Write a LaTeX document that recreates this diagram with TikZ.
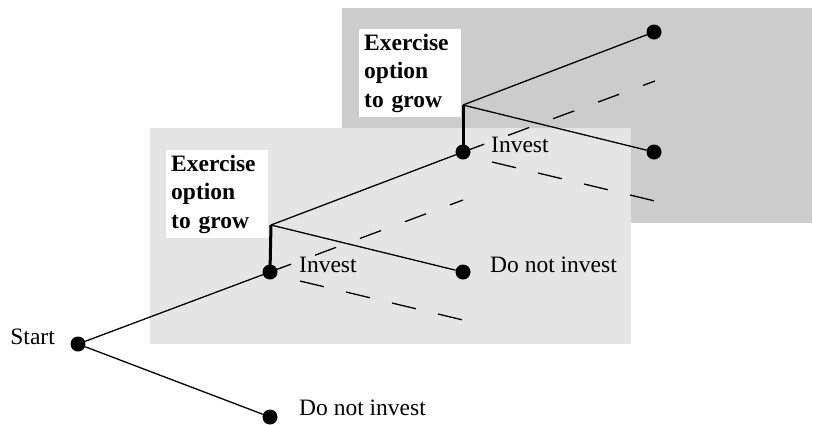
\documentclass[tikz,border=0pt]{standalone}
\usepackage{fontspec}
\setmainfont{Liberation Serif}
\begin{document}
\begin{tikzpicture}[x=1pt,y=-1pt,
  dot/.style={circle,fill=black,draw=none,minimum size=15pt,inner sep=0pt},
  edge/.style={line width=1.3pt},
  stem/.style={line width=3pt},
  dashup/.style={line width=1.3pt,dash pattern=on 22.5pt off 25.5pt},
  dashdn/.style={line width=1.3pt,dash pattern=on 24.5pt off 22.8pt},
  lbl/.style={inner sep=0pt,anchor=base west,font=\fontsize{23.5}{28.5}\selectfont},
  exbox/.style={fill=white,draw=none,anchor=north west,inner xsep=5pt,inner ysep=0pt,
    text width=92pt,minimum height=88pt,align=left,
    font=\fontsize{23.5}{28.5}\selectfont\bfseries}]
\useasboundingbox (0,0) rectangle (813,424);
\definecolor{darkbg}{RGB}{204,204,204}
\definecolor{lightbg}{RGB}{229,229,229}
% backgrounds
\fill[darkbg] (342,8) rectangle (812,223);
\fill[lightbg] (150,128) rectangle (631,344);
% white label boxes
\node[exbox] (ex2) at (359,29) {Exercise\\option\\to grow};
\node[exbox] (ex1) at (166,150) {Exercise\\option\\to grow};
% nodes
\node[dot] (start) at (78,344) {};
\node[dot] (noinv0) at (270,417) {};
\node[dot] (inv1) at (270,272) {};
\node[dot] (up1) at (463,152) {};
\node[dot] (dn1) at (463,272) {};
\node[dot] (up2) at (654,32) {};
\node[dot] (dn2) at (654,152) {};
\coordinate (j1) at (271,225);
\coordinate (j2) at (463,105);
\coordinate (du1) at (463,200);
\coordinate (du2) at (655,81);
\coordinate (dl1a) at (300,281);
\coordinate (dl1b) at (463,320);
\coordinate (dl2a) at (492,162);
\coordinate (dl2b) at (655,201);
% connectors
\draw[edge] (start) -- (inv1);
\draw[edge] (start) -- (noinv0);
\draw[stem] (inv1.center) -- (j1);
\draw[edge] (j1) -- (up1);
\draw[edge] (j1) -- (dn1);
\draw[stem] (up1.center) -- (j2);
\draw[edge] (j2) -- (up2);
\draw[edge] (j2) -- (dn2);
\draw[dashup] (inv1.center) -- (du1);
\draw[dashup] (up1.center) -- (du2);
\draw[dashdn] (dl1a) -- (dl1b);
\draw[dashdn] (dl2a) -- (dl2b);
% labels
\node[lbl,anchor=base east] (lstart) at (55,344) {Start};
\node[lbl] (lnoinv0) at (299,415) {Do not invest};
\node[lbl] (linv1) at (299,272) {Invest};
\node[lbl] (lnoinv1) at (490,272) {Do not invest};
\node[lbl] (linv2) at (491,152) {Invest};
\end{tikzpicture}
\end{document}
